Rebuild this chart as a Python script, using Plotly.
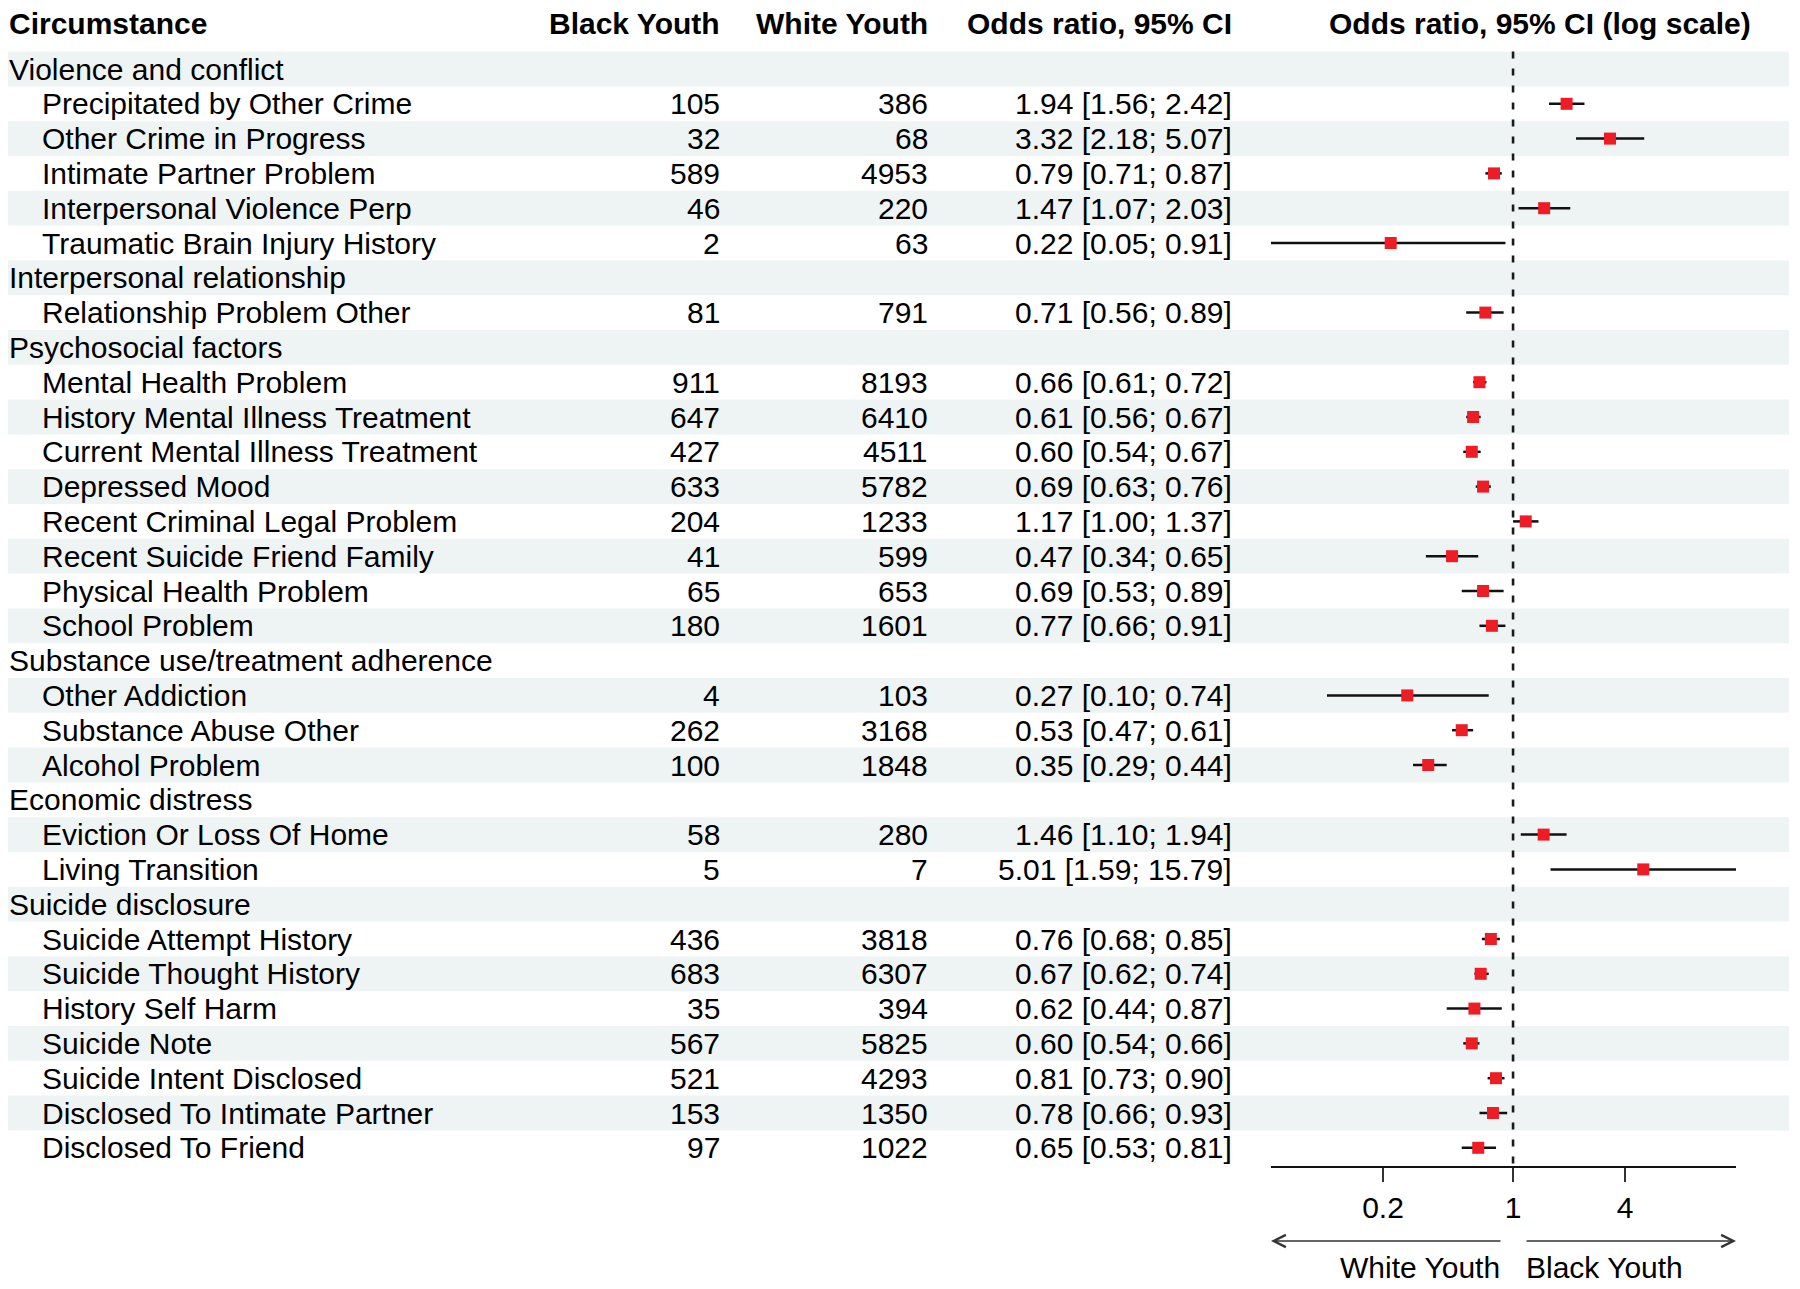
import math
import plotly.graph_objects as go

# ---------------- data ----------------
row_labels = [
    "Violence and conflict",
    "Precipitated by Other Crime", "Other Crime in Progress", "Intimate Partner Problem",
    "Interpersonal Violence Perp", "Traumatic Brain Injury History",
    "Interpersonal relationship",
    "Relationship Problem Other",
    "Psychosocial factors",
    "Mental Health Problem", "History Mental Illness Treatment", "Current Mental Illness Treatment",
    "Depressed Mood", "Recent Criminal Legal Problem", "Recent Suicide Friend Family",
    "Physical Health Problem", "School Problem",
    "Substance use/treatment adherence",
    "Other Addiction", "Substance Abuse Other", "Alcohol Problem",
    "Economic distress",
    "Eviction Or Loss Of Home", "Living Transition",
    "Suicide disclosure",
    "Suicide Attempt History", "Suicide Thought History", "History Self Harm", "Suicide Note",
    "Suicide Intent Disclosed", "Disclosed To Intimate Partner", "Disclosed To Friend",
]
is_group = [
    True, False, False, False, False, False,
    True, False,
    True, False, False, False, False, False, False, False, False,
    True, False, False, False,
    True, False, False,
    True, False, False, False, False, False, False, False,
]
black_youth = [None, 105, 32, 589, 46, 2, None, 81, None, 911, 647, 427, 633, 204, 41, 65, 180,
               None, 4, 262, 100, None, 58, 5, None, 436, 683, 35, 567, 521, 153, 97]
white_youth = [None, 386, 68, 4953, 220, 63, None, 791, None, 8193, 6410, 4511, 5782, 1233, 599, 653, 1601,
               None, 103, 3168, 1848, None, 280, 7, None, 3818, 6307, 394, 5825, 4293, 1350, 1022]
odds_ratio = [None, 1.94, 3.32, 0.79, 1.47, 0.22, None, 0.71, None, 0.66, 0.61, 0.60, 0.69, 1.17, 0.47, 0.69, 0.77,
              None, 0.27, 0.53, 0.35, None, 1.46, 5.01, None, 0.76, 0.67, 0.62, 0.60, 0.81, 0.78, 0.65]
ci_low = [None, 1.56, 2.18, 0.71, 1.07, 0.05, None, 0.56, None, 0.61, 0.56, 0.54, 0.63, 1.00, 0.34, 0.53, 0.66,
          None, 0.10, 0.47, 0.29, None, 1.10, 1.59, None, 0.68, 0.62, 0.44, 0.54, 0.73, 0.66, 0.53]
ci_high = [None, 2.42, 5.07, 0.87, 2.03, 0.91, None, 0.89, None, 0.72, 0.67, 0.67, 0.76, 1.37, 0.65, 0.89, 0.91,
           None, 0.74, 0.61, 0.44, None, 1.94, 15.79, None, 0.85, 0.74, 0.87, 0.66, 0.90, 0.93, 0.81]
col_headers = ["Circumstance", "Black Youth", "White Youth", "Odds ratio, 95% CI", "Odds ratio, 95% CI (log scale)"]
tick_vals = [0.2, 1, 4]
tick_text = ["0.2", "1", "4"]
direction_labels = ["White Youth", "Black Youth"]

# ---------------- layout geometry ----------------
W, H = 1800, 1289
ROW0, ROWH, AXIS_Y = 69.0, 34.8, 1166.0
n = len(row_labels)
y_top = -ROW0 / ROWH
y_bot = (AXIS_Y - ROW0) / ROWH
y_dom0 = (H - AXIS_Y) / H
FONT = "Liberation Sans, Arial, Helvetica, sans-serif"
FS = 30
STRIPE = "#EEF3F3"

x_min = math.log10(min(v for v in ci_low if v is not None))
x_max = math.log10(max(v for v in ci_high if v is not None))
X0_PX, X1_PX = 1271, 1736
px_per_dec = (X1_PX - X0_PX) / (x_max - x_min)

fig = go.Figure()

# reference line at OR = 1
fig.add_trace(go.Scatter(x=[1, 1], y=[-0.5, n - 0.5], mode="lines",
                         line=dict(color="#1a1a1a", width=2.6, dash="7px,10px"),
                         hoverinfo="skip", showlegend=False))

# CI lines
cx, cy = [], []
for i in range(n):
    if odds_ratio[i] is None:
        continue
    cx += [ci_low[i], ci_high[i], None]
    cy += [i, i, None]
fig.add_trace(go.Scatter(x=cx, y=cy, mode="lines", line=dict(color="#111111", width=2.5),
                         hoverinfo="skip", showlegend=False))

# point estimates
px_, py_ = [], []
for i in range(n):
    if odds_ratio[i] is not None:
        px_.append(odds_ratio[i])
        py_.append(i)
fig.add_trace(go.Scatter(x=px_, y=py_, mode="markers",
                         marker=dict(symbol="square", size=12, color="#EE1C25", line=dict(width=0)),
                         showlegend=False))

# stripes
shapes = []
for i in range(0, n, 2):
    shapes.append(dict(type="rect", xref="paper", yref="y", x0=8 / W, x1=1789 / W,
                       y0=i - 0.5, y1=i + 0.5, fillcolor=STRIPE, line=dict(width=0), layer="below"))

ann = []
def txt(x_px, y, text, anchor, bold=False, size=FS):
    ann.append(dict(xref="paper", yref="y", x=x_px / W, y=y, text=("<b>%s</b>" % text) if bold else text,
                    xanchor=anchor, yanchor="middle", showarrow=False,
                    font=dict(family=FONT, size=size, color="#000000")))

hy = (23 - ROW0) / ROWH
txt(7, hy, col_headers[0], "left", True)
txt(722, hy, col_headers[1], "right", True)
txt(930, hy, col_headers[2], "right", True)
txt(1234, hy, col_headers[3], "right", True)
txt(1540, hy, col_headers[4], "center", True)

for i in range(n):
    if is_group[i]:
        txt(7, i, row_labels[i], "left")
    else:
        txt(40, i, row_labels[i], "left")
        txt(722, i, str(black_youth[i]), "right")
        txt(930, i, str(white_youth[i]), "right")
        txt(1234, i, "%.2f [%.2f; %.2f]" % (odds_ratio[i], ci_low[i], ci_high[i]), "right")

# direction arrows
arrow_y = (H - 1241) / H
left_tail = (1502 - X0_PX) / px_per_dec + x_min
right_tail = (1525 - X0_PX) / px_per_dec + x_min
ann.append(dict(xref="x", yref="paper", x=x_min, y=arrow_y, axref="x", ayref="pixel", ax=left_tail, ay=0,
                text="", showarrow=True, arrowhead=5, arrowsize=1.6, arrowwidth=1.5, arrowcolor="#333333",
                standoff=0, startstandoff=0))
ann.append(dict(xref="x", yref="paper", x=x_max, y=arrow_y, axref="x", ayref="pixel", ax=right_tail, ay=0,
                text="", showarrow=True, arrowhead=5, arrowsize=1.6, arrowwidth=1.5, arrowcolor="#333333",
                standoff=0, startstandoff=0))
lab_y = (H - 1267) / H
ann.append(dict(xref="x", yref="paper", x=0, y=lab_y, xshift=-11, text=direction_labels[0],
                xanchor="right", yanchor="middle", showarrow=False,
                font=dict(family=FONT, size=FS, color="#000000")))
ann.append(dict(xref="x", yref="paper", x=0, y=lab_y, xshift=11, text=direction_labels[1],
                xanchor="left", yanchor="middle", showarrow=False,
                font=dict(family=FONT, size=FS, color="#000000")))

fig.update_layout(
    width=W, height=H, margin=dict(l=0, r=0, t=0, b=0),
    paper_bgcolor="white", plot_bgcolor="white",
    shapes=shapes, annotations=ann, showlegend=False,
    xaxis=dict(type="log", range=[x_min, x_max], domain=[X0_PX / W, X1_PX / W],
               showgrid=False, zeroline=False, showline=True, linecolor="#111111", linewidth=2,
               ticks="outside", ticklen=14, tickwidth=1.5, tickcolor="#333333",
               tickvals=tick_vals, ticktext=tick_text, ticklabelstandoff=0,
               tickfont=dict(family=FONT, size=FS, color="#000000")),
    yaxis=dict(range=[y_bot, y_top], domain=[y_dom0, 1], visible=False, showgrid=False, zeroline=False),
)

fig.write_html("out.html", config={"displayModeBar": False},
               post_script="document.body.style.margin='0';document.body.style.overflow='hidden';")
